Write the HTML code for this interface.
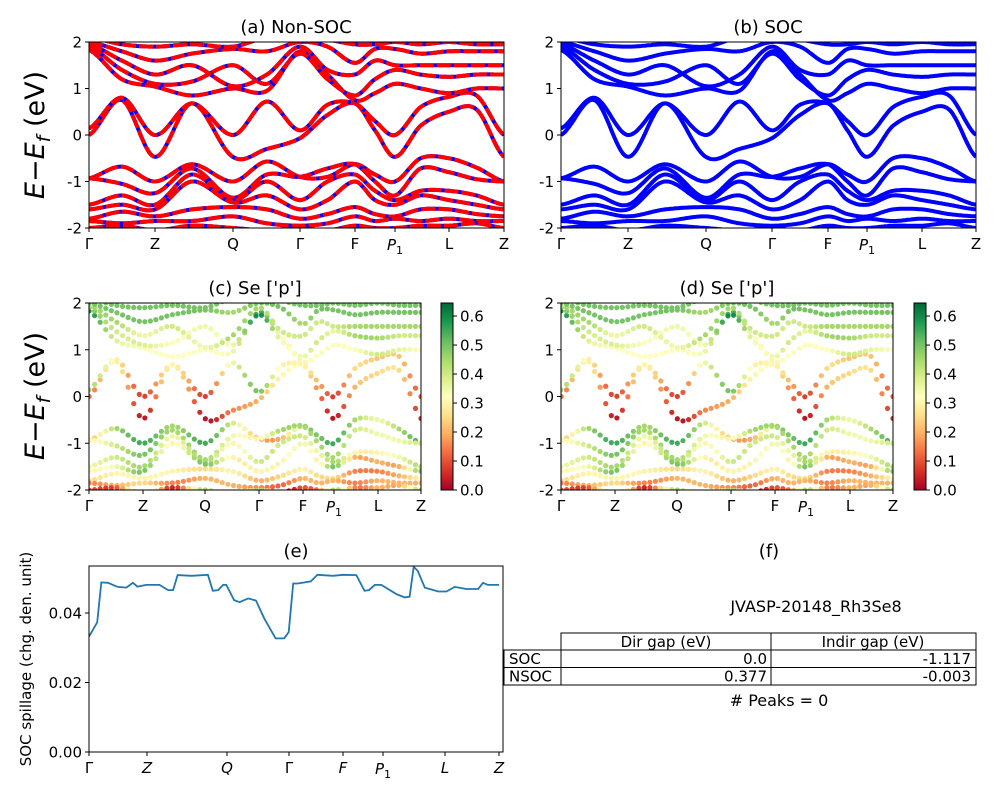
<!DOCTYPE html>
<html><head><meta charset="utf-8">
<style>
body{margin:0;background:#fff;}
svg{font-family:"DejaVu Sans","Liberation Sans",sans-serif;}
</style></head>
<body>
<svg id="fig" width="1000" height="800" viewBox="0 0 1000 800" xmlns="http://www.w3.org/2000/svg">
<defs>
<clipPath id="ca"><rect x="89" y="42" width="415" height="186"/></clipPath>
<clipPath id="cb"><rect x="561" y="42" width="415" height="186"/></clipPath>
<clipPath id="cc"><rect x="89" y="303" width="332" height="187"/></clipPath>
<clipPath id="cd"><rect x="561" y="303" width="332" height="187"/></clipPath>
<clipPath id="ce"><rect x="89" y="566" width="414" height="186"/></clipPath>
<linearGradient id="rdylgn" x1="0" y1="1" x2="0" y2="0">
<stop offset="0" stop-color="#a50026"/><stop offset="0.1" stop-color="#d73027"/><stop offset="0.2" stop-color="#f46d43"/><stop offset="0.3" stop-color="#fdae61"/><stop offset="0.4" stop-color="#fee08b"/><stop offset="0.5" stop-color="#ffffbf"/><stop offset="0.6" stop-color="#d9ef8b"/><stop offset="0.7" stop-color="#a6d96a"/><stop offset="0.8" stop-color="#66bd63"/><stop offset="0.9" stop-color="#1a9850"/><stop offset="1" stop-color="#006837"/>
</linearGradient>
</defs>
<g id="root"></g>
</svg>
<script>
// ---- data ----
const kLabels = ["Γ","Z","Q","Γ","F","P1","L","Z"];
const kFrac = [0,0.161,0.349,0.509,0.643,0.737,0.870,1];
const bandK = [0,0.08,0.161,0.25,0.349,0.43,0.509,0.576,0.643,0.69,0.737,0.80,0.87,0.935,1];
const bandA = [0.0,0.75,-0.47,0.68,-0.47,-0.3,-0.07,0.43,0.68,0.1,-0.47,0.2,0.5,0.55,-0.47];
const bandB = [0.14,0.8,0.0,0.68,0.0,0.72,0.1,0.65,0.68,0.3,0.0,0.6,0.82,0.85,0.0];
const bandC = [1.83,1.2,1.04,0.85,1.0,0.95,1.8,1.3,0.75,0.9,1.1,1.0,0.9,1.0,1.0];
const bandD = [1.9,1.4,1.1,1.15,1.5,1.1,1.75,1.2,0.85,1.2,1.4,1.3,1.25,1.3,1.3];
const bandE = [1.95,1.6,1.3,1.5,1.05,1.3,1.9,1.4,1.3,1.6,1.5,1.5,1.5,1.5,1.5];
const bandF = [2.0,1.8,1.6,1.75,1.85,1.8,2.0,1.9,1.55,1.85,1.85,1.75,1.8,1.8,1.8];
const bandG = [2.1,1.95,1.9,1.95,1.9,2.1,2.1,2.05,1.95,1.95,2.0,1.95,2.0,1.95,1.95];
const bandV1 = [-0.93,-0.68,-1.0,-0.63,-1.0,-0.57,-0.9,-0.9,-0.63,-0.85,-1.0,-0.5,-0.5,-0.7,-1.0];
const bandV2 = [-0.93,-1.05,-1.25,-0.72,-1.35,-0.85,-0.9,-0.72,-0.63,-1.0,-1.3,-0.72,-0.8,-0.95,-1.0];
const bandV3 = [-1.5,-1.3,-1.5,-0.85,-1.4,-1.0,-1.4,-1.0,-0.85,-1.2,-1.4,-1.2,-1.2,-1.3,-1.5];
const bandV4 = [-1.6,-1.5,-1.6,-1.0,-1.45,-1.3,-1.6,-1.4,-1.0,-1.4,-1.5,-1.3,-1.4,-1.5,-1.6];
const bandV5 = [-1.8,-1.65,-1.75,-1.6,-1.55,-1.6,-1.8,-1.7,-1.55,-1.7,-1.75,-1.6,-1.6,-1.7,-1.75];
const bandV6 = [-1.85,-1.9,-1.85,-1.85,-1.75,-1.9,-1.95,-1.9,-1.75,-1.85,-1.8,-1.85,-1.8,-1.85,-1.85];
const bandV7 = [-2.0,-1.95,-2.05,-1.95,-2.0,-2.05,-2.0,-2.05,-1.95,-2.0,-2.0,-1.95,-1.95,-1.9,-2.0];
const wA = [0.12,0.3,0.03,0.3,0.03,0.15,0.2,0.3,0.3,0.15,0.03,0.2,0.25,0.25,0.05];
const wB = [0.45,0.3,0.08,0.3,0.08,0.35,0.5,0.3,0.3,0.2,0.08,0.25,0.22,0.22,0.1];
const wC = [0.6,0.38,0.33,0.32,0.33,0.35,0.55,0.33,0.3,0.33,0.33,0.33,0.4,0.36,0.33];
const wD = [0.5,0.4,0.38,0.33,0.35,0.35,0.6,0.35,0.35,0.4,0.36,0.45,0.45,0.4,0.4];
const wE = [0.45,0.45,0.35,0.4,0.35,0.45,0.45,0.4,0.4,0.4,0.4,0.45,0.45,0.45,0.45];
const wF = [0.5,0.5,0.5,0.5,0.5,0.45,0.5,0.5,0.45,0.5,0.5,0.5,0.5,0.5,0.5];
const wG = [0.5,0.5,0.5,0.5,0.5,0.5,0.5,0.5,0.5,0.5,0.5,0.5,0.5,0.5,0.5];
const wV1 = [0.2,0.45,0.55,0.45,0.55,0.4,0.2,0.2,0.45,0.5,0.55,0.45,0.35,0.45,0.55];
const wV2 = [0.3,0.4,0.5,0.45,0.45,0.35,0.3,0.45,0.45,0.45,0.45,0.4,0.35,0.35,0.4];
const wV3 = [0.35,0.4,0.45,0.35,0.45,0.3,0.4,0.4,0.4,0.35,0.45,0.3,0.3,0.35,0.45];
const wV4 = [0.3,0.35,0.5,0.3,0.5,0.3,0.3,0.3,0.35,0.3,0.5,0.2,0.2,0.2,0.5];
const wV5 = [0.25,0.3,0.3,0.3,0.25,0.3,0.2,0.25,0.3,0.25,0.25,0.15,0.15,0.2,0.3];
const wV6 = [0.15,0.2,0.25,0.15,0.2,0.2,0.15,0.12,0.2,0.2,0.2,0.15,0.2,0.2,0.2];
const wV7 = [0.1,0.1,0.45,0.05,0.45,0.1,0.45,0.05,0.1,0.15,0.45,0.15,0.2,0.2,0.45];
const bands = [bandA,bandB,bandC,bandD,bandE,bandF,bandG,bandV1,bandV2,bandV3,bandV4,bandV5,bandV6,bandV7];
const weights = [wA,wB,wC,wD,wE,wF,wG,wV1,wV2,wV3,wV4,wV5,wV6,wV7];
const spillK = [0,0.020,0.030,0.046,0.070,0.091,0.107,0.118,0.140,0.172,0.193,0.205,0.216,0.250,0.290,0.302,0.315,0.327,0.335,0.354,0.367,0.388,0.407,0.428,0.455,0.476,0.487,0.498,0.509,0.541,0.557,0.595,0.620,0.652,0.672,0.683,0.697,0.713,0.750,0.770,0.782,0.792,0.802,0.819,0.852,0.872,0.892,0.920,0.949,0.961,0.973,0.985,1];
const spillV = [0.0332,0.0373,0.0488,0.0487,0.0475,0.0473,0.0487,0.0476,0.0481,0.0481,0.0466,0.0466,0.0509,0.0507,0.0510,0.0464,0.0466,0.0481,0.0481,0.0437,0.0431,0.0442,0.0436,0.0383,0.0327,0.0327,0.0345,0.0485,0.0485,0.0491,0.0510,0.0507,0.0510,0.0509,0.0464,0.0466,0.0481,0.0481,0.0454,0.0445,0.0447,0.0533,0.0521,0.0473,0.0462,0.0462,0.0475,0.0469,0.0469,0.0487,0.0481,0.0481,0.0481];
const spillTicks = [0,0.02,0.04];
const energyTicks = [-2,-1,0,1,2];
const cbarTicks = [0,0.1,0.2,0.3,0.4,0.5,0.6];
const tableRows = [["SOC","0.0","-1.117"],["NSOC","0.377","-0.003"]];

// ---- helpers ----
const NS="http://www.w3.org/2000/svg";
const root=document.getElementById('root');
function mk(tag,attrs,parent){const e=document.createElementNS(NS,tag);for(const k in attrs)e.setAttribute(k,attrs[k]);(parent||root).appendChild(e);return e;}
function txt(x,y,s,size,anchor,parent,extra){const t=mk('text',Object.assign({x:x,y:y,'font-size':size,'text-anchor':anchor||'middle',fill:'#000'},extra||{}),parent);t.textContent=s;return t;}
function interp(xs,ys,k){let i=0;while(i<xs.length-2&&k>xs[i+1])i++;const t=(k-xs[i])/(xs[i+1]-xs[i]);
 const p0=ys[Math.max(i-1,0)],p1=ys[i],p2=ys[i+1],p3=ys[Math.min(i+2,ys.length-1)];
 const t2=t*t,t3=t2*t;return 0.5*((2*p1)+(-p0+p2)*t+(2*p0-5*p1+4*p2-p3)*t2+(-p0+3*p1-3*p2+p3)*t3);}
function kMap(k,ticksPx){let i=0;while(i<kFrac.length-2&&k>kFrac[i+1])i++;const t=(k-kFrac[i])/(kFrac[i+1]-kFrac[i]);return ticksPx[i]+t*(ticksPx[i+1]-ticksPx[i]);}
const stops=["#a50026","#d73027","#f46d43","#fdae61","#fee08b","#ffffbf","#d9ef8b","#a6d96a","#66bd63","#1a9850","#006837"];
function cmap(v){let f=Math.max(0,Math.min(1,v/0.645))*10;const i=Math.min(9,Math.floor(f)),t=f-i;
 const a=stops[i],b=stops[i+1];const c=j=>Math.round(parseInt(a.substr(j,2),16)*(1-t)+parseInt(b.substr(j,2),16)*t);
 return `rgb(${c(1)},${c(3)},${c(5)})`;}

function frame(x0,y0,w,h,name,tpx,yTicks,yMap,yFmt,italic){
 const g=mk('g',{});
 mk('rect',{x:x0,y:y0,width:w,height:h,fill:'none',stroke:'#000','stroke-width':1},g);
 yTicks.forEach(v=>{const y=yMap(v);mk('line',{x1:x0-4,x2:x0,y1:y,y2:y,stroke:'#000'},g);txt(x0-7,y+5.5,yFmt(v),15,'end',g);});
 tpx.forEach((x,i)=>{mk('line',{x1:x,x2:x,y1:y0+h,y2:y0+h+4,stroke:'#000'},g);
  const lab=kLabels[i];const ex=italic&&lab!=='Γ'?{'font-style':'italic'}:{};
  if(lab==='P1'){const t=txt(x,y0+h+22,'P',15,'middle',g,{'font-style':'italic'});const s=mk('tspan',{'font-size':11,dy:4,'font-style':'normal'},t);s.textContent='1';}
  else txt(x,y0+h+21,lab,15,'middle',g,ex);});
 return g;}

function bandPanel(x0,y0,w,h,tpx,clip,name,mode){
 const yMap=v=>y0+(2-v)/4*h;
 const g=mk('g',{'clip-path':`url(#${clip})`});
 bands.forEach((b,bi)=>{
  if(mode==='line'||mode==='dash'){
   let d='';for(let s=0;s<=300;s++){const k=s/300;d+=(s?'L':'M')+kMap(k,tpx).toFixed(1)+','+yMap(interp(bandK,b,k)).toFixed(1);}
   const p=mk('path',{d:d,fill:'none',stroke:'#0000ff','stroke-width':4},g);
   
   if(mode==='dash'){const q=mk('path',{d:d,fill:'none',stroke:'#ff0000','stroke-width':4,'stroke-dasharray':'14,3'},g);}
  } else {
   const n=60;for(let s=0;s<=n;s++){const k=s/n;const c=mk('circle',{cx:kMap(k,tpx),cy:yMap(interp(bandK,b,k)),r:2.6,fill:cmap(interp(bandK,weights[bi],k))},g);
    }
  }
 });
 frame(x0,y0,w,h,name,tpx,energyTicks,yMap,v=>String(v),false);
}

// ---- panels ----
const tA=[89,155,233,300,355,395,449,504], tB=[561,628,706,772,828,867,922,976];
const tC=[89,143,205,259,303,334,378,421], tD=[561,615,677,731,775,806,850,893];
bandPanel(89,42,415,186,tA,'ca','panel-a','dash');
bandPanel(561,42,415,186,tB,'cb','panel-b','line');
bandPanel(89,303,332,187,tC,'cc','panel-c','dot');
bandPanel(561,303,332,187,tD,'cd','panel-d','dot');
txt(296,33,'(a) Non-SOC',18);
txt(768,33,'(b) SOC',18);
txt(255,294,"(c)  Se ['p']",18);
txt(727,294,"(d) Se ['p']",18);

function ylab(x,y,name){const t=mk('text',{x:0,y:0,'font-size':27,'text-anchor':'middle',transform:`translate(${x},${y}) rotate(-90)`});
 
 t.innerHTML='<tspan font-style="italic">E</tspan>−<tspan font-style="italic">E</tspan><tspan font-style="italic" font-size="19" dy="6">f</tspan><tspan dy="-6"> (eV)</tspan>';}
ylab(44,135,'y-axis-title-a');ylab(44,396,'y-axis-title-c');

function cbar(x,name){const g=mk('g',{});
 mk('rect',{x:x,y:303,width:12,height:187,fill:'url(#rdylgn)',stroke:'#000'},g);
 cbarTicks.forEach(v=>{const y=490-v/0.645*187;mk('line',{x1:x+12,x2:x+16,y1:y,y2:y,stroke:'#000'},g);txt(x+19,y+5.5,v.toFixed(1),15,'start',g);});}
cbar(441,'colorbar-c');cbar(914,'colorbar-d');

// ---- spillage ----
const tE=[89,147,227,289,343,383,445,499];
const sY=v=>752-v/0.04*139;
const sX=k=>89+k*(499-89);
let d='';spillK.forEach((k,i)=>{d+=(i?'L':'M')+sX(k).toFixed(1)+','+sY(spillV[i]).toFixed(1);});
const sp=mk('path',{d:d,fill:'none',stroke:'#1f77b4','stroke-width':1.8,'clip-path':'url(#ce)'});

frame(89,566,414,186,'panel-e',tE,spillTicks,sY,v=>v.toFixed(2),true);
txt(296,557,'(e)',18);
const sl=mk('text',{x:0,y:0,'font-size':15,'text-anchor':'middle',transform:'translate(31,659) rotate(-90)'});sl.textContent='SOC spillage (chg. den. unit)';


// ---- table ----
txt(769,557,'(f)',18);
txt(816,612,'JVASP-20148_Rh3Se8',16);
const tg=mk('g',{});
mk('rect',{x:561,y:633,width:415,height:17,fill:'none',stroke:'#000'},tg);
mk('line',{x1:771,x2:771,y1:633,y2:685,stroke:'#000'},tg);
txt(666,647,'Dir gap (eV)',15,'middle',tg);txt(873,647,'Indir gap (eV)',15,'middle',tg);
tableRows.forEach((r,i)=>{const y=650+i*17.5;
 mk('rect',{x:504,y:y,width:472,height:17.5,fill:'none',stroke:'#000'},tg);
 mk('line',{x1:561,x2:561,y1:y,y2:y+17.5,stroke:'#000'},tg);
 txt(509,y+14,r[0],15,'start',tg);txt(767,y+14,r[1],15,'end',tg);txt(971,y+14,r[2],15,'end',tg);});
txt(779,706,'# Peaks = 0',16);
</script>
</body></html>
